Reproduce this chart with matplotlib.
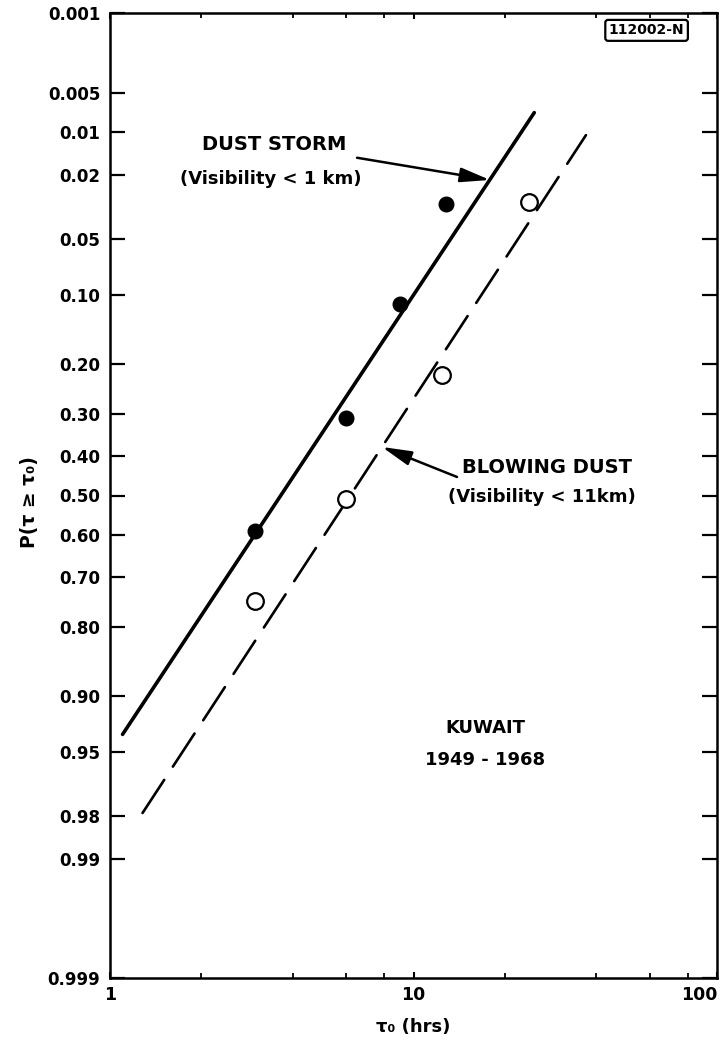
import math
import numpy as np
import matplotlib
matplotlib.use("Agg")
import matplotlib.pyplot as plt
from matplotlib.ticker import FixedLocator, NullFormatter

# ---------------- data ----------------
storm_x = [3.0, 6.0, 9.0, 12.8]
storm_p = [0.59, 0.31, 0.11, 0.031]
blowing_x = [3.0, 6.0, 12.4, 24.0]
blowing_p = [0.75, 0.51, 0.22, 0.030]
storm_fit_x = [1.10, 25.0]
storm_fit_p = [0.937, 0.0071]
blowing_fit_x = [1.28, 37.0]
blowing_fit_p = [0.979, 0.0105]
prob_ticks = [0.001, 0.005, 0.01, 0.02, 0.05, 0.10, 0.20, 0.30, 0.40, 0.50,
              0.60, 0.70, 0.80, 0.90, 0.95, 0.98, 0.99, 0.999]
prob_labels = ["0.001", "0.005", "0.01", "0.02", "0.05", "0.10", "0.20", "0.30",
               "0.40", "0.50", "0.60", "0.70", "0.80", "0.90", "0.95", "0.98",
               "0.99", "0.999"]
x_major = [1, 10, 100]
x_major_labels = ["1", "10", "100"]
x_minor = [2, 4, 6, 8, 20, 40, 60, 80]


# ---------------- normal probability scale ----------------
def norm_ppf(p):
    p = np.clip(np.asarray(p, dtype=float), 1e-12, 1 - 1e-12)
    a = [-3.969683028665376e+01, 2.209460984245205e+02, -2.759285104469687e+02,
         1.383577518672690e+02, -3.066479806614716e+01, 2.506628277459239e+00]
    b = [-5.447609879822406e+01, 1.615858368580409e+02, -1.556989798598866e+02,
         6.680131188771972e+01, -1.328068155288572e+01]
    c = [-7.784894002430293e-03, -3.223964580411365e-01, -2.400758277161838e+00,
         -2.549732539343734e+00, 4.374664141464968e+00, 2.938163982698783e+00]
    d = [7.784695709041462e-03, 3.224671290700398e-01, 2.445134137142996e+00,
         3.754408661907416e+00]
    plow = 0.02425
    ql = np.sqrt(-2 * np.log(p))
    f_lo = (((((c[0]*ql+c[1])*ql+c[2])*ql+c[3])*ql+c[4])*ql+c[5]) / \
           ((((d[0]*ql+d[1])*ql+d[2])*ql+d[3])*ql+1)
    qh = np.sqrt(-2 * np.log(1 - p))
    f_hi = -(((((c[0]*qh+c[1])*qh+c[2])*qh+c[3])*qh+c[4])*qh+c[5]) / \
        ((((d[0]*qh+d[1])*qh+d[2])*qh+d[3])*qh+1)
    q = p - 0.5
    r = q * q
    f_mid = (((((a[0]*r+a[1])*r+a[2])*r+a[3])*r+a[4])*r+a[5])*q / \
            (((((b[0]*r+b[1])*r+b[2])*r+b[3])*r+b[4])*r+1)
    return np.where(p < plow, f_lo, np.where(p > 1 - plow, f_hi, f_mid))


_erf = np.vectorize(math.erf)


def norm_cdf(z):
    z = np.asarray(z, dtype=float)
    return 0.5 * (1 + _erf(z / math.sqrt(2)))


# ---------------- figure ----------------
plt.rcParams['font.family'] = ['DejaVu Sans']
fig = plt.figure(figsize=(7.26, 10.5), dpi=100)
ax = fig.add_axes([110/726, 1 - 978/1050, 607/726, 965/1050])

ax.set_xscale('log')
ax.set_yscale('function', functions=(norm_ppf, norm_cdf))
ax.set_xlim(1, 100)
ax.set_ylim(0.999, 0.001)

# fitted lines
ax.plot(storm_fit_x, storm_fit_p, color='black', lw=2.6, solid_capstyle='round', zorder=2)
ax.plot(blowing_fit_x, blowing_fit_p, color='black', lw=1.9, dashes=(15, 6),
        dash_capstyle='round', zorder=2)

# data points
ax.plot(storm_x, storm_p, 'o', color='black', markersize=10.5, zorder=3)
ax.plot(blowing_x, blowing_p, 'o', markerfacecolor='white', markeredgecolor='black',
        markeredgewidth=1.6, markersize=12, zorder=3)

# ticks
ax.yaxis.set_major_locator(FixedLocator(prob_ticks))
ax.set_yticklabels(prob_labels)
ax.yaxis.set_minor_locator(FixedLocator([]))
ax.xaxis.set_major_locator(FixedLocator(x_major))
ax.set_xticklabels(x_major_labels)
ax.xaxis.set_minor_locator(FixedLocator(x_minor))
ax.xaxis.set_minor_formatter(NullFormatter())

ax.tick_params(axis='y', which='both', direction='in', left=True, right=True,
               length=11, width=1.6, pad=7, labelsize=12)
ax.tick_params(axis='x', which='major', direction='in', top=True, bottom=True,
               length=4, width=1.5, pad=6, labelsize=12.5)
ax.tick_params(axis='x', which='minor', direction='in', top=True, bottom=True,
               length=3.5, width=1.3)
for lab in ax.get_yticklabels() + ax.get_xticklabels():
    lab.set_fontweight('bold')
xl = ax.get_xticklabels()
xl[-1].set_horizontalalignment('right')

for s in ax.spines.values():
    s.set_linewidth(1.8)

# labels
fig.text(29/726, 1 - 502/1050, "P(τ ≥ τ₀)", rotation=90, ha='center', va='center',
         fontsize=13.5, fontweight='bold')
fig.text(413/726, 1 - 1027/1050, "τ₀ (hrs)", ha='center', va='center',
         fontsize=13, fontweight='bold')

# annotations
arrow_style = dict(arrowstyle='-|>,head_length=0.9,head_width=0.22',
                   color='black', lw=1.8, mutation_scale=20, shrinkA=0, shrinkB=0)
ax.text(0.271, 0.864, "DUST STORM", transform=ax.transAxes, ha='center', va='center',
        fontsize=14, fontweight='bold')
ax.text(0.265, 0.828, "(Visibility < 1 km)", transform=ax.transAxes, ha='center',
        va='center', fontsize=13, fontweight='bold')
ax.annotate("", xy=(0.626, 0.827), xytext=(0.407, 0.850), xycoords='axes fraction',
            textcoords='axes fraction', arrowprops=arrow_style)

ax.text(0.580, 0.5285, "BLOWING DUST", transform=ax.transAxes, ha='left', va='center',
        fontsize=14, fontweight='bold')
ax.text(0.712, 0.4984, "(Visibility < 11km)", transform=ax.transAxes, ha='center',
        va='center', fontsize=13, fontweight='bold')
ax.annotate("", xy=(0.448, 0.5503), xytext=(0.5717, 0.5192), xycoords='axes fraction',
            textcoords='axes fraction', arrowprops=arrow_style)

ax.text(0.618, 0.259, "KUWAIT", transform=ax.transAxes, ha='center', va='center',
        fontsize=13, fontweight='bold')
ax.text(0.618, 0.226, "1949 - 1968", transform=ax.transAxes, ha='center', va='center',
        fontsize=13, fontweight='bold')

ax.text(0.884, 0.982, "112002-N", transform=ax.transAxes, ha='center', va='center',
        fontsize=10, fontweight='bold',
        bbox=dict(boxstyle='round,pad=0.25,rounding_size=0.2', facecolor='white',
                  edgecolor='black', lw=1.6))

fig.savefig("out.png", dpi=100)
